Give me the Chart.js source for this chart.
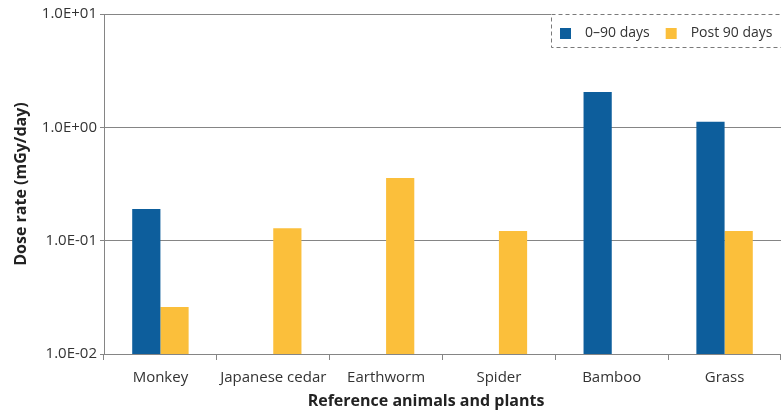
<!DOCTYPE html>
<html>
<head>
<meta charset="utf-8">
<script src="https://cdn.jsdelivr.net/npm/chart.js@4/dist/chart.umd.min.js"></script>
<style>
    html, body { margin: 0; padding: 0; background: #ffffff; }
    #wrap { width: 781px; height: 413px; }
</style>
</head>
<body>
<div id="wrap"><canvas id="dose-chart"></canvas></div>
<script>
// категории и значения мощности дозы (мГр/сут)
const categories = ['Monkey', 'Japanese cedar', 'Earthworm', 'Spider', 'Bamboo', 'Grass'];
const early = [0.19, null, null, null, 2.05, 1.12];
const late = [0.026, 0.129, 0.357, 0.122, null, 0.122];
const yTicks = [0.01, 0.1, 1, 10];
const xTitle = 'Reference animals and plants';

const BLUE = '#0d5e9c';
const YELLOW = '#fbbf3b';
const GRID = '#858585';
const FONT = '"Open Sans", "Liberation Sans", sans-serif';

// 0.1 -> "1.0E-01"
function sci(v) {
    const [m, e] = v.toExponential(1).split('e');
    const n = parseInt(e, 10);
    return m + 'E' + (n < 0 ? '-' : '+') + String(Math.abs(n)).padStart(2, '0');
}

// легенда в пунктирной рамке в правом верхнем углу + подпись оси X
const boxLegend = {
    id: 'boxLegend',
    afterDraw(chart) {
        const ctx = chart.ctx;
        const area = chart.chartArea;
        ctx.save();
        ctx.fillStyle = '#ffffff';
        ctx.fillRect(551, area.top, 240, 33);
        ctx.strokeStyle = '#7a7a7a';
        ctx.lineWidth = 1;
        ctx.setLineDash([4, 3]);
        ctx.strokeRect(551.5, area.top + 0.5, 240, 33);
        ctx.setLineDash([]);

        ctx.font = '14px ' + FONT;
        ctx.textBaseline = 'middle';
        let x = 560;
        const cy = area.top + 19;
        chart.data.datasets.forEach((ds) => {
            ctx.fillStyle = ds.backgroundColor;
            ctx.fillRect(x, cy - 5, 11, 11);
            ctx.fillStyle = '#333333';
            ctx.fillText(ds.label, x + 25, cy);
            x += 25 + ctx.measureText(ds.label).width + 16;
        });

        // подпись оси X немного левее центра области
        ctx.font = 'bold 16px ' + FONT;
        ctx.fillStyle = '#222222';
        ctx.textAlign = 'center';
        ctx.fillText(xTitle, 426, 401);
        ctx.restore();
    }
};

const chart = new Chart(document.getElementById('dose-chart'), {
    type: 'bar',
    data: {
        labels: categories,
        datasets: [
            { label: '0–90 days', data: early, backgroundColor: BLUE },
            { label: 'Post 90 days', data: late, backgroundColor: YELLOW }
        ]
    },
    options: {
        responsive: true,
        maintainAspectRatio: false,
        animation: false,
        layout: { padding: { top: 14, right: 0, left: 0, bottom: 0 } },
        datasets: {
            bar: { categoryPercentage: 0.5, barPercentage: 1.0 }
        },
        plugins: {
            legend: { display: false },
            tooltip: { enabled: false }
        },
        scales: {
            x: {
                grid: {
                    offset: true,
                    drawOnChartArea: false,
                    drawTicks: true,
                    tickLength: 6,
                    color: GRID
                },
                border: { color: GRID },
                ticks: {
                    color: '#333333',
                    font: { family: FONT, size: 15 },
                    padding: 9
                },
                afterFit(scale) { scale.height = 59; }
            },
            y: {
                type: 'logarithmic',
                min: 0.01,
                max: 10,
                afterBuildTicks(scale) {
                    scale.ticks = yTicks.map(v => ({ value: v }));
                },
                grid: {
                    color: GRID,
                    drawTicks: true,
                    tickLength: 4
                },
                border: { color: GRID },
                ticks: {
                    color: '#333333',
                    font: { family: FONT, size: 15 },
                    padding: 3,
                    callback: (v) => sci(v)
                },
                title: {
                    display: true,
                    text: 'Dose rate (mGy/day)',
                    color: '#222222',
                    font: { family: FONT, size: 16, weight: 'bold' },
                    padding: { top: 12, bottom: 0 }
                },
                afterFit(scale) { scale.width = 104; }
            }
        }
    },
    plugins: [boxLegend]
});
</script>
</body>
</html>
